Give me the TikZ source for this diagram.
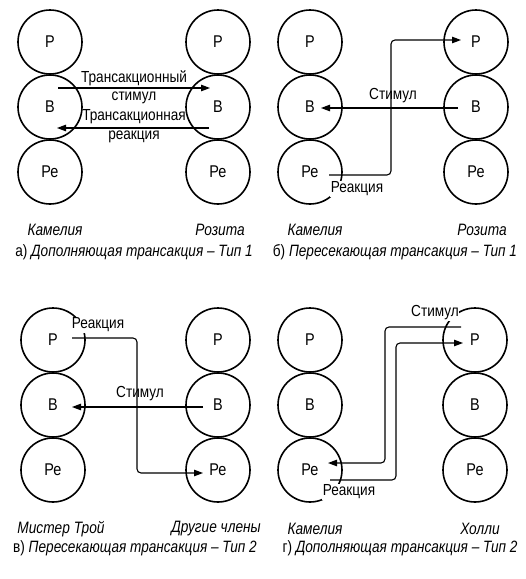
\documentclass[tikz,border=0pt]{standalone}
\usepackage{fontspec}
\setmainfont{Liberation Sans}[FakeStretch=0.85]
\newfontfamily\capfont{Liberation Sans}[FakeStretch=0.83]
\usetikzlibrary{arrows.meta}
\tikzset{
  ego/.style={circle, draw=black, line width=1.6pt, minimum size=64pt, inner sep=0pt, font=\fontsize{17}{18}\selectfont},
  conn/.style={line width=1.1pt, rounded corners=4pt},
  arr/.style={conn, -{Triangle[length=9pt,width=6.5pt]}},
  lbl/.style={inner sep=0.5pt, font=\fontsize{16}{17}\selectfont},
  wlbl/.style={lbl, fill=white},
  pname/.style={inner sep=0pt, font=\capfont\fontsize{16.5}{18}\selectfont\itshape},
  capt/.style={inner sep=0pt, font=\capfont\fontsize{16.4}{18}\selectfont}
}
\begin{document}
\begin{tikzpicture}[x=1pt,y=-1pt]
\useasboundingbox (0,0) rectangle (526,579);
% ---------- panel a ----------
\node[ego] (aLP) at (50,42) {Р};
\node[ego] (aLB) at (50,107) {В};
\node[ego] (aLR) at (50,172) {Ре};
\node[ego] (aRP) at (218,42) {Р};
\node[ego] (aRB) at (218,107) {В};
\node[ego] (aRR) at (218,172) {Ре};
\coordinate (a1s) at (58,88);
\coordinate (a1e) at (210,88);
\coordinate (a2s) at (209,128);
\coordinate (a2e) at (57,128);
\draw[arr] (a1s) -- (a1e);
\draw[arr] (a2s) -- (a2e);
\node[lbl] (at1) at (134,78) {Трансакционный};
\node[lbl] (at2) at (134,98) {стимул};
\node[lbl] (at3) at (134,117) {Трансакционная};
\node[lbl] (at4) at (134,137) {реакция};
\node[pname] (an1) at (55,230) {Камелия};
\node[pname] (an2) at (220,230) {Розита};
\node[capt] (acap) at (134,252) {а) \textit{Дополняющая трансакция – Тип 1}};
% ---------- panel b ----------
\node[ego] (bLP) at (310,42) {Р};
\node[ego] (bLB) at (310,107) {В};
\node[ego] (bLR) at (310,172) {Ре};
\node[ego] (bRP) at (476,42) {Р};
\node[ego] (bRB) at (476,107) {В};
\node[ego] (bRR) at (476,172) {Ре};
\coordinate (b1s) at (458,108);
\coordinate (b1e) at (321,108);
\coordinate (b2s) at (329,175);
\coordinate (b2e) at (461,40);
\draw[arr] (b1s) -- (b1e);
\draw[arr] (b2s) -| (391,110) |- (b2e);
\node[lbl] (bt1) at (393,96) {Стимул};
\node[wlbl] (bt2) at (357,189) {Реакция};
\node[pname] (bn1) at (315,230) {Камелия};
\node[pname] (bn2) at (482,230) {Розита};
\node[capt] (bcap) at (395,252) {б) \textit{Пересекающая трансакция – Тип 1}};
% ---------- panel c ----------
\node[ego] (cLP) at (53,340) {Р};
\node[ego] (cLB) at (53,405) {В};
\node[ego] (cLR) at (53,470) {Ре};
\node[ego] (cRP) at (218,340) {Р};
\node[ego] (cRB) at (218,405) {В};
\node[ego] (cRR) at (218,470) {Ре};
\coordinate (c1s) at (203,407);
\coordinate (c1e) at (72,407);
\coordinate (c2s) at (72,338);
\coordinate (c2e) at (203,473);
\draw[arr] (c1s) -- (c1e);
\node[wlbl] (ct2) at (98,325) {Реакция};
\draw[arr] (c2s) -| (137,400) |- (c2e);
\node[lbl] (ct1) at (140,394) {Стимул};
\node[pname] (cn1) at (61,529) {Мистер Трой};
\node[pname] (cn2) at (216,529) {Другие члены};
\node[capt] (ccap) at (135,548) {в) \textit{Пересекающая трансакция – Тип 2}};
% ---------- panel d ----------
\node[ego] (dLP) at (310,340) {Р};
\node[ego] (dLB) at (310,405) {В};
\node[ego] (dLR) at (310,470) {Ре};
\node[ego] (dRP) at (475,340) {Р};
\node[ego] (dRB) at (475,405) {В};
\node[ego] (dRR) at (475,470) {Ре};
\coordinate (d1s) at (461,327);
\coordinate (d1e) at (328,463);
\coordinate (d2s) at (330,480);
\coordinate (d2e) at (463,343);
\draw[arr] (d1s) -| (385,400) |- (d1e);
\draw[arr] (d2s) -| (396,400) |- (d2e);
\node[wlbl] (dt1) at (435,313) {Стимул};
\node[wlbl] (dt2) at (349,492) {Реакция};
\node[pname] (dn1) at (315,529) {Камелия};
\node[pname] (dn2) at (480,529) {Холли};
\node[capt] (dcap) at (400,548) {г) \textit{Дополняющая трансакция – Тип 2}};
\end{tikzpicture}
\end{document}
